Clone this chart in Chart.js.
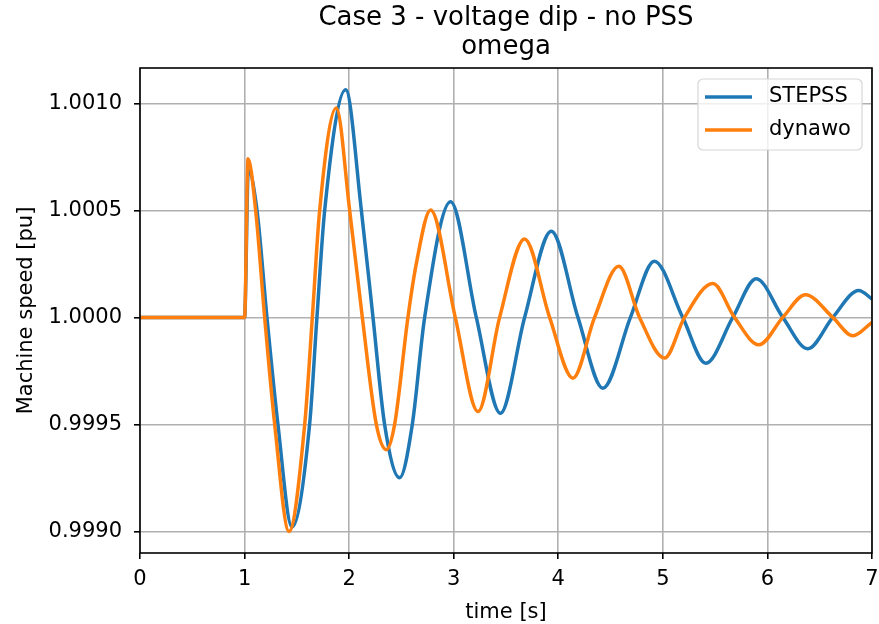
<!DOCTYPE html>
<html>
<head>
<meta charset="utf-8">
<script src="https://cdn.jsdelivr.net/npm/chart.js@4"></script>
<style>
  html, body { margin: 0; padding: 0; background: #fff; }
  canvas { display: block; }
</style>
</head>
<body>
<canvas id="grafico" width="879" height="624"></canvas>
<script>
// valores
const stepssT = [0, 1.0, 1.036, 1.119, 1.214, 1.319, 1.453, 1.622, 1.692, 1.766, 1.967, 2.117, 2.228, 2.339, 2.483,
  2.604, 2.722, 2.970, 3.216, 3.446, 3.678, 3.933, 4.188, 4.427, 4.69, 4.918, 5.19, 5.41, 5.669, 5.893, 6.147,
  6.386, 6.625, 6.874, 7.0];
const stepssW = [1.0, 1.0, 1.000690, 1.0005, 1.0, 0.9995, 0.999020, 0.9995, 1.0, 1.0005, 1.001064, 1.0005, 1.0, 0.9995, 0.999251,
  0.9995, 1.0, 1.000541, 1.0, 0.999552, 1.0, 1.000403, 1.0, 0.999669, 1.0, 1.000263, 1.0, 0.999786, 1.0, 1.000181, 1.0,
  0.999853, 1.0, 1.000126, 1.000086];

const dynawoT = [0, 1.0, 1.033, 1.106, 1.192, 1.288, 1.425, 1.575, 1.648, 1.718, 1.877, 2.005, 2.126, 2.26, 2.356,
  2.435, 2.562, 2.642, 2.779, 3.015, 3.232, 3.439, 3.678, 3.917, 4.14, 4.347, 4.579, 4.777, 5.016, 5.207, 5.478,
  5.685, 5.918, 6.147, 6.364, 6.625, 6.817, 7.0];
const dynawoW = [1.0, 1.0, 1.000741, 1.0005, 1.0, 0.9995, 0.999000, 0.9995, 1.0, 1.0005, 1.000979, 1.0005, 1.0, 0.9995, 0.999382,
  0.9995, 1.0, 1.00025, 1.000502, 1.0, 0.999560, 1.0, 1.000367, 1.0, 0.999716, 1.0, 1.000239, 1.0, 0.999810, 1.0, 1.000158,
  1.0, 0.999872, 1.0, 1.000106, 1.0, 0.999914, 0.999977];

const yTicks = [0.9990, 0.9995, 1.0000, 1.0005, 1.0010];
const xTicks = [0, 1, 2, 3, 4, 5, 6, 7];
const titulo = ['Case 3 - voltage dip - no PSS', 'omega'];

const fonte = 'DejaVu Sans';

function pontos(ts, ws) {
  return ts.map((t, i) => ({ x: t, y: ws[i] }));
}

// titulo centrado na area do grafico, moldura e legenda dentro do grafico
const molduraPlugin = {
  id: 'moldura',
  afterDatasetsDraw(chart) {
    const { ctx, chartArea: a } = chart;
    ctx.save();
    ctx.strokeStyle = '#000';
    ctx.lineWidth = 1.6;
    ctx.strokeRect(a.left, a.top, a.right - a.left, a.bottom - a.top);
    ctx.restore();
  },
  afterDraw(chart) {
    const { ctx, chartArea: a } = chart;
    ctx.save();
    ctx.fillStyle = '#000';
    ctx.font = '26px ' + fonte;
    ctx.textAlign = 'center';
    ctx.textBaseline = 'middle';
    const cx = (a.left + a.right) / 2;
    titulo.forEach((linha, i) => ctx.fillText(linha, cx, 18 + i * 29));

    const x = 698, y = 79, w = 164, h = 71, r = 5;
    ctx.beginPath();
    ctx.roundRect(x, y, w, h, r);
    ctx.fillStyle = 'rgba(255,255,255,0.8)';
    ctx.fill();
    ctx.strokeStyle = '#d6d6d6';
    ctx.lineWidth = 1.2;
    ctx.stroke();
    chart.data.datasets.forEach((ds, i) => {
      const ly = 97 + i * 33;
      ctx.beginPath();
      ctx.moveTo(705, ly);
      ctx.lineTo(752, ly);
      ctx.strokeStyle = ds.borderColor;
      ctx.lineWidth = 3.5;
      ctx.stroke();
      ctx.fillStyle = '#000';
      ctx.font = '21px ' + fonte;
      ctx.textBaseline = 'middle';
      ctx.textAlign = 'left';
      ctx.fillText(ds.label, 769, ly);
    });
    ctx.restore();
  }
};

new Chart(document.getElementById('grafico'), {
  type: 'line',
  data: {
    datasets: [
      {
        label: 'STEPSS',
        data: pontos(stepssT, stepssW),
        borderColor: '#1f77b4',
        borderWidth: 3.5,
        pointRadius: 0,
        cubicInterpolationMode: 'monotone',
        order: 1
      },
      {
        label: 'dynawo',
        data: pontos(dynawoT, dynawoW),
        borderColor: '#ff7f0e',
        borderWidth: 3.5,
        pointRadius: 0,
        cubicInterpolationMode: 'monotone',
        order: 0
      }
    ]
  },
  options: {
    responsive: false,
    devicePixelRatio: 1,
    animation: false,
    layout: { padding: { left: 0, right: 7, top: 68, bottom: 0 } },
    plugins: {
      legend: { display: false },
      tooltip: { enabled: false },
      title: { display: false }
    },
    scales: {
      x: {
        type: 'linear',
        min: 0,
        max: 7,
        afterFit: s => { s.height = 71; s.paddingRight = 0; s.paddingLeft = 0; },
        afterBuildTicks: s => { s.ticks = xTicks.map(v => ({ value: v })); },
        grid: { color: '#b0b0b0', lineWidth: 1.6, tickColor: '#000', tickLength: 6 },
        border: { display: false },
        ticks: {
          color: '#000',
          padding: 8,
          font: { family: fonte, size: 21 },
          callback: v => String(v)
        },
        title: {
          display: true,
          text: 'time [s]',
          color: '#000',
          font: { family: fonte, size: 21 },
          padding: { top: 0, bottom: -1 }
        }
      },
      y: {
        type: 'linear',
        min: 0.998899,
        max: 1.0011656,
        afterFit: s => { s.width = 140; s.paddingTop = 0; s.paddingBottom = 0; },
        afterBuildTicks: s => { s.ticks = yTicks.map(v => ({ value: v })); },
        grid: { color: '#b0b0b0', lineWidth: 1.6, tickColor: '#000', tickLength: 6 },
        border: { display: false },
        ticks: {
          color: '#000',
          padding: 12,
          font: { family: fonte, size: 21 },
          callback: v => Number(v).toFixed(4)
        },
        title: {
          display: true,
          text: 'Machine speed [pu]',
          color: '#000',
          font: { family: fonte, size: 21 },
          padding: { top: 14, bottom: 0 }
        }
      }
    }
  },
  plugins: [molduraPlugin]
});
</script>
</body>
</html>
